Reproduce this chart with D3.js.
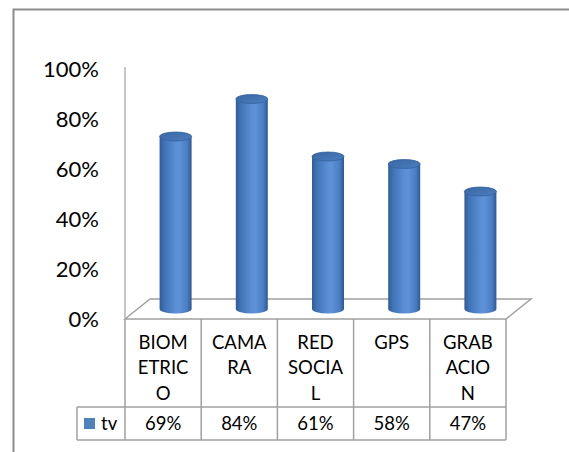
<!DOCTYPE html>
<html>
<head>
<meta charset="utf-8">
<script src="https://cdn.jsdelivr.net/npm/d3@7/dist/d3.min.js"></script>
<style>
  html, body { margin: 0; padding: 0; background: #fff; }
  svg { display: block; }
  text { font-family: Lato, "Open Sans", sans-serif; fill: #000; }
</style>
</head>
<body>
<svg id="chart" width="569" height="452"></svg>
<script>
// Survey results: share per device type, single series "tv"
const categories = ["BIOMETRICO", "CAMARA", "RED SOCIAL", "GPS", "GRABACION"];
const categoryLines = [["BIOM", "ETRIC", "O"], ["CAMA", "RA"], ["RED", "SOCIA", "L"], ["GPS"], ["GRAB", "ACIO", "N"]];
const seriesName = "tv";
const values = [0.69, 0.84, 0.61, 0.58, 0.47];
const yTicks = [0, 0.2, 0.4, 0.6, 0.8, 1.0];

const svg = d3.select("#chart");

// plot geometry
const left = 125, right = 506;
const floorY = 319, topY = 69;
const depthX = 25, depthY = -20;
const tableRowY = 407, tableBottom = 440, legendLeft = 77;
const gridColor = "#a0a0a0";

const x = d3.scaleBand().domain(categories).range([left, right]).padding(0);
const y = d3.scaleLinear().domain([0, 1]).range([floorY, topY]);
const pct = d3.format(".0%");

// outer chart frame
svg.append("rect")
  .attr("x", 13.5).attr("y", 9.5)
  .attr("width", 600).attr("height", 500)
  .attr("fill", "#fff")
  .attr("stroke", "#8c8c8c").attr("stroke-width", 2);

const defs = svg.append("defs");
const grad = defs.append("linearGradient").attr("id", "cyl")
  .attr("x1", "0%").attr("x2", "100%").attr("y1", "0%").attr("y2", "0%");
[[0, "#305c98"], [0.15, "#4073b5"], [0.5, "#5a8fd6"], [0.62, "#5d92d9"], [0.86, "#4a7dc2"], [1, "#2e5993"]]
  .forEach(([o, c]) => grad.append("stop").attr("offset", o).attr("stop-color", c));
const gradTop = defs.append("linearGradient").attr("id", "cylTop")
  .attr("x1", "0%").attr("x2", "100%").attr("y1", "0%").attr("y2", "100%");
[[0, "#3a67a3"], [1, "#4c7dc0"]]
  .forEach(([o, c]) => gradTop.append("stop").attr("offset", o).attr("stop-color", c));

// floor
svg.append("path")
  .attr("d", `M${left},${floorY} L${left + depthX},${floorY + depthY} L${right + depthX},${floorY + depthY} L${right},${floorY} Z`)
  .attr("fill", "#fff").attr("stroke", gridColor).attr("stroke-width", 1.5);

// vertical axis line
svg.append("line")
  .attr("x1", left).attr("x2", left).attr("y1", topY - 2).attr("y2", floorY)
  .attr("stroke", "#b4b4b4").attr("stroke-width", 1.5);

// y tick labels
const yAxis = svg.append("g")
  .attr("transform", `translate(${left},0)`)
  .call(d3.axisLeft(y).tickValues(yTicks).tickFormat(pct).tickSize(0).tickPadding(26));
yAxis.select(".domain").remove();
yAxis.selectAll("text")
  .attr("font-family", "Lato, 'Open Sans', sans-serif")
  .attr("font-size", 22).attr("fill", "#000").attr("dy", "0.36em");

// cylinders, seated at mid depth of the floor
const rx = 16, ry = 4.5;
const cyl = svg.append("g").selectAll("g")
  .data(categories.map((c, i) => ({ c, v: values[i] })))
  .join("g");
cyl.each(function (d) {
  const g = d3.select(this);
  const cx = x(d.c) + x.bandwidth() / 2 + depthX / 2;
  const yb = y(0) + depthY / 2;
  const yt = y(d.v) + depthY / 2;
  g.append("path")
    .attr("d", `M${cx - rx},${yt} L${cx - rx},${yb} A${rx},${ry} 0 0 0 ${cx + rx},${yb} L${cx + rx},${yt} Z`)
    .attr("fill", "url(#cyl)");
  g.append("ellipse")
    .attr("cx", cx).attr("cy", yt).attr("rx", rx).attr("ry", ry)
    .attr("fill", "url(#cylTop)").attr("stroke", "#34629f").attr("stroke-width", 0.8);
});

// data table under the floor
const table = svg.append("g").attr("fill", "none").attr("stroke", gridColor).attr("stroke-width", 1.5);
const colEdges = categories.map(c => x(c)).concat([right]);
colEdges.forEach(cx => {
  table.append("line").attr("x1", cx).attr("x2", cx)
    .attr("y1", floorY).attr("y2", tableBottom);
});
table.append("line").attr("x1", legendLeft).attr("x2", right).attr("y1", tableRowY).attr("y2", tableRowY);
table.append("line").attr("x1", legendLeft).attr("x2", right).attr("y1", tableBottom).attr("y2", tableBottom);
table.append("line").attr("x1", legendLeft).attr("x2", legendLeft).attr("y1", tableRowY).attr("y2", tableBottom);

// category labels (wrapped)
const catG = svg.append("g");
categories.forEach((c, i) => {
  const t = catG.append("text")
    .attr("x", x(c) + x.bandwidth() / 2)
    .attr("text-anchor", "middle")
    .attr("font-size", 18.5);
  categoryLines[i].forEach((line, k) => {
    t.append("tspan").attr("x", x(c) + x.bandwidth() / 2)
      .attr("y", 342 + k * 25.5).attr("dy", "0.36em").text(line);
  });
});

// value row
const rowMid = (tableRowY + tableBottom) / 2;
svg.append("g").selectAll("text")
  .data(categories.map((c, i) => ({ c, v: values[i] })))
  .join("text")
  .attr("x", d => x(d.c) + x.bandwidth() / 2)
  .attr("y", rowMid).attr("dy", "0.36em")
  .attr("text-anchor", "middle").attr("font-size", 18.5)
  .text(d => pct(d.v));

// legend key
svg.append("rect").attr("x", 84).attr("y", rowMid - 5.5).attr("width", 11).attr("height", 11)
  .attr("fill", "#4f81bd");
svg.append("text").attr("x", 101).attr("y", rowMid).attr("dy", "0.36em")
  .attr("font-size", 18.5).text(seriesName);
</script>
</body>
</html>
